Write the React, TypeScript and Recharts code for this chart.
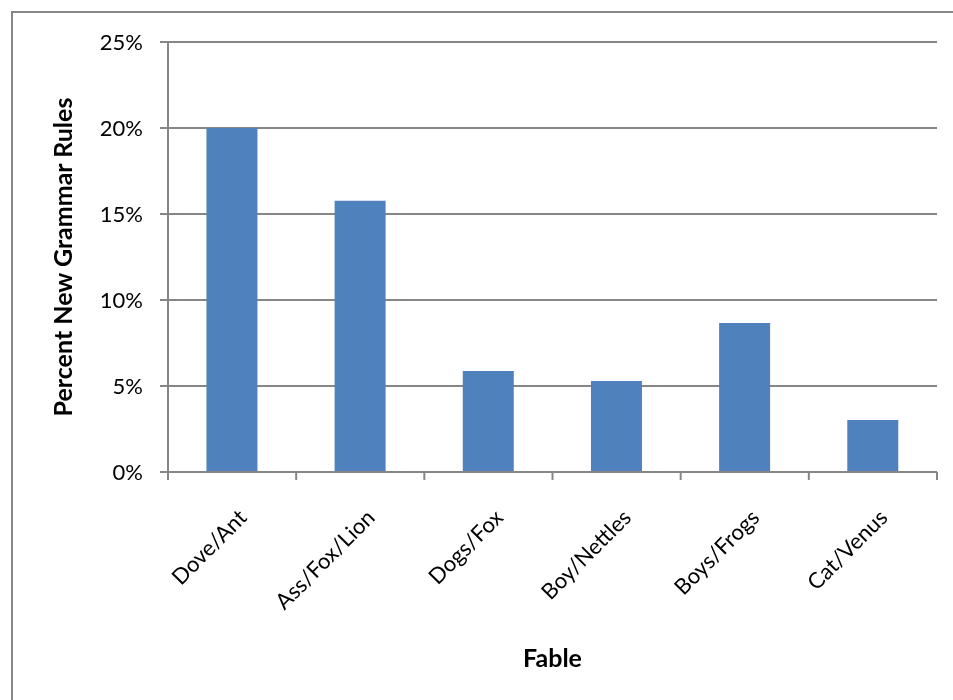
import { Bar, BarChart, CartesianGrid, XAxis, YAxis } from 'recharts'

const categories = ['Dove/Ant', 'Ass/Fox/Lion', 'Dogs/Fox', 'Boy/Nettles', 'Boys/Frogs', 'Cat/Venus']
const percentNew = [20.0, 15.77, 5.87, 5.29, 8.67, 3.03]
const yTicks = [0, 5, 10, 15, 20, 25]

const data = categories.map((fable, i) => ({ fable, pct: percentNew[i] }))

const CHART_W = 937
const CHART_H = 684
const MARGIN = { top: 34, right: 8, left: 40, bottom: 30 }
const Y_AXIS_W = 120
const PLOT_W = CHART_W - MARGIN.left - MARGIN.right - Y_AXIS_W
const BAND = PLOT_W / categories.length
const GREY = '#868686'
const FONT = 'Lato, "Open Sans", sans-serif'

function FableTick(props: any) {
  const { x, y, payload, index } = props
  const axisY = y - 8
  const tx = x + 10
  const ty = y + 33
  return (
    <g>
      {index === 0 && <line x1={x - BAND / 2} x2={x - BAND / 2} y1={axisY} y2={y} stroke={GREY} strokeWidth={2} />}
      <line x1={x + BAND / 2} x2={x + BAND / 2} y1={axisY} y2={y} stroke={GREY} strokeWidth={2} />
      <text
        x={tx}
        y={ty}
        textAnchor="end"
        dominantBaseline="central"
        transform={`rotate(-45, ${tx}, ${ty})`}
        fontSize={22}
        fill="#000"
      >
        {payload.value}
      </text>
    </g>
  )
}

export default function App() {
  return (
    <div style={{ position: 'relative', width: CHART_W, height: CHART_H, fontFamily: FONT }}>
      {/* outer chart frame, runs off the right and bottom edges like the original */}
      <div
        style={{
          position: 'fixed',
          left: 11,
          top: 11,
          right: -20,
          bottom: -20,
          border: `2px solid ${GREY}`,
        }}
      />
      <BarChart
        width={CHART_W}
        height={CHART_H}
        data={data}
        margin={MARGIN}
        barCategoryGap="30%"
        style={{ position: 'absolute', left: 0, top: 0 }}
      >
        <CartesianGrid vertical={false} stroke={GREY} strokeWidth={2} />
        <XAxis
          dataKey="fable"
          height={190}
          interval={0}
          axisLine={{ stroke: GREY, strokeWidth: 2 }}
          tickLine={false}
          tickSize={8}
          tickMargin={0}
          tick={<FableTick />}
          label={{
            content: ({ viewBox }: any) => (
              <text
                x={viewBox.x + viewBox.width / 2}
                y={viewBox.y + 185}
                textAnchor="middle"
                dominantBaseline="central"
                fontSize={25}
                fontWeight="bold"
                fill="#000"
              >
                Fable
              </text>
            ),
          }}
        />
        <YAxis
          width={Y_AXIS_W}
          domain={[0, 25]}
          ticks={yTicks}
          interval={0}
          tickFormatter={(v) => `${v}%`}
          axisLine={{ stroke: GREY, strokeWidth: 2 }}
          tickLine={{ stroke: GREY, strokeWidth: 2 }}
          tickSize={8}
          tickMargin={17}
          tick={{ fill: '#000', fontSize: 22 }}
          label={{
            content: ({ viewBox }: any) => {
              const cx = viewBox.x + 14
              const cy = viewBox.y + viewBox.height / 2
              return (
                <text
                  x={cx}
                  y={cy}
                  textAnchor="middle"
                  dominantBaseline="central"
                  transform={`rotate(-90, ${cx}, ${cy})`}
                  fontSize={25}
                  fontWeight="bold"
                  fill="#000"
                >
                  Percent New Grammar Rules
                </text>
              )
            },
          }}
        />
        <Bar dataKey="pct" fill="#4F81BD" isAnimationActive={false} />
      </BarChart>
    </div>
  )
}
